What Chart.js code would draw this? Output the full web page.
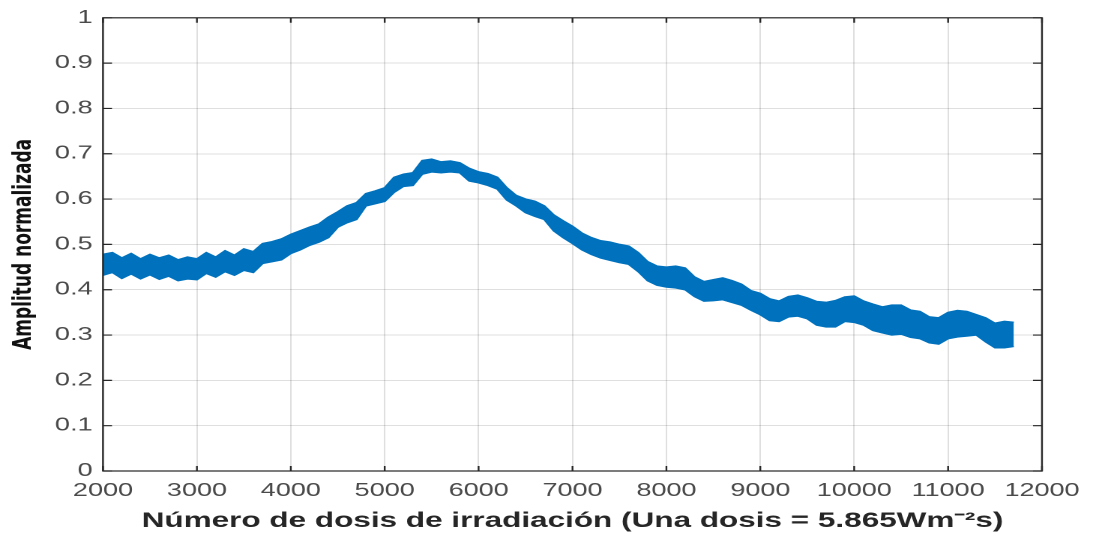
<!DOCTYPE html>
<html><head><meta charset="utf-8">
<script src="https://cdn.jsdelivr.net/npm/chart.js@4"></script>
<style>html,body{margin:0;padding:0;background:#fff;overflow:hidden}</style>
</head><body>
<canvas id="c" width="729" height="540" style="display:block;width:1093px;height:540px"></canvas>
<script>
// ---- data ----
const doses = [2000,2100,2200,2300,2400,2500,2600,2700,2800,2900,
  3000,3100,3200,3300,3400,3500,3600,3700,3800,3900,
  4000,4100,4200,4300,4400,4500,4600,4700,4800,4900,
  5000,5100,5200,5300,5400,5500,5600,5700,5800,5900,
  6000,6100,6200,6300,6400,6500,6600,6700,6800,6900,
  7000,7100,7200,7300,7400,7500,7600,7700,7800,7900,
  8000,8100,8200,8300,8400,8500,8600,8700,8800,8900,
  9000,9100,9200,9300,9400,9500,9600,9700,9800,9900,
  10000,10100,10200,10300,10400,10500,10600,10700,10800,10900,
  11000,11100,11200,11300,11400,11500,11600,11700];
const upperEnvelope = [0.478,0.482,0.470,0.480,0.468,0.478,0.470,0.476,0.466,0.472,
  0.468,0.482,0.472,0.486,0.476,0.490,0.484,0.502,0.506,0.512,
  0.522,0.530,0.538,0.545,0.560,0.572,0.585,0.592,0.612,0.618,
  0.625,0.648,0.655,0.658,0.685,0.688,0.682,0.684,0.680,0.668,
  0.660,0.656,0.648,0.625,0.608,0.600,0.595,0.585,0.565,0.552,
  0.540,0.525,0.515,0.508,0.505,0.500,0.496,0.482,0.462,0.452,
  0.450,0.452,0.448,0.428,0.418,0.422,0.426,0.420,0.412,0.398,
  0.392,0.380,0.375,0.385,0.388,0.382,0.374,0.372,0.376,0.384,
  0.386,0.375,0.368,0.362,0.366,0.366,0.355,0.352,0.340,0.338,
  0.350,0.354,0.352,0.345,0.338,0.326,0.330,0.328];
const lowerEnvelope = [0.432,0.438,0.425,0.435,0.424,0.433,0.423,0.430,0.420,0.424,
  0.422,0.436,0.428,0.440,0.432,0.443,0.438,0.458,0.462,0.466,
  0.480,0.488,0.498,0.505,0.515,0.538,0.548,0.555,0.585,0.590,
  0.595,0.615,0.628,0.630,0.655,0.660,0.658,0.660,0.658,0.640,
  0.636,0.630,0.622,0.598,0.585,0.570,0.562,0.555,0.530,0.515,
  0.502,0.488,0.478,0.470,0.465,0.460,0.456,0.440,0.420,0.410,
  0.406,0.404,0.400,0.385,0.375,0.376,0.378,0.372,0.366,0.355,
  0.345,0.332,0.330,0.340,0.342,0.336,0.322,0.318,0.318,0.330,
  0.328,0.322,0.310,0.305,0.300,0.302,0.295,0.292,0.283,0.280,
  0.292,0.296,0.298,0.300,0.285,0.272,0.272,0.275];
const xTickValues = [2000,3000,4000,5000,6000,7000,8000,9000,10000,11000,12000];
const yTickValues = [0,0.1,0.2,0.3,0.4,0.5,0.6,0.7,0.8,0.9,1];
const xTitle = 'Número de dosis de irradiación (Una dosis = 5.865Wm⁻²s)';
const yTitle = 'Amplitud normalizada';

const lineBlue = '#0072BD';
const axisColor = '#262626';

const boxPlugin = {
  id: 'matlabBox',
  afterDatasetsDraw(chart) {
    const {ctx, chartArea: a, scales: {x, y}} = chart;
    ctx.save();
    ctx.strokeStyle = axisColor;
    ctx.lineWidth = 1.2;
    ctx.beginPath();
    x.ticks.forEach(t => {
      const px = x.getPixelForValue(t.value);
      ctx.moveTo(px, a.bottom); ctx.lineTo(px, a.bottom - 5);
      ctx.moveTo(px, a.top); ctx.lineTo(px, a.top + 5);
    });
    y.ticks.forEach(t => {
      const py = y.getPixelForValue(t.value);
      ctx.moveTo(a.left, py); ctx.lineTo(a.left + 6, py);
      ctx.moveTo(a.right, py); ctx.lineTo(a.right - 6, py);
    });
    ctx.stroke();
    ctx.strokeRect(a.left, a.top, a.right - a.left, a.bottom - a.top);
    ctx.restore();
  }
};

const tickFont = {family: '"Liberation Sans", Arial, sans-serif', size: 18};

new Chart(document.getElementById('c'), {
  type: 'line',
  data: {
    labels: doses,
    datasets: [
      {label: 'upper', data: doses.map((d, i) => ({x: d, y: upperEnvelope[i]})),
       borderColor: lineBlue, backgroundColor: lineBlue, borderWidth: 1.5,
       pointRadius: 0, fill: '+1', tension: 0},
      {label: 'lower', data: doses.map((d, i) => ({x: d, y: lowerEnvelope[i]})),
       borderColor: lineBlue, backgroundColor: lineBlue, borderWidth: 1.5,
       pointRadius: 0, fill: false, tension: 0}
    ]
  },
  options: {
    responsive: false,
    devicePixelRatio: 2,
    animation: false,
    layout: {padding: {left: 0, right: 34, top: 11, bottom: 0}},
    plugins: {legend: {display: false}, tooltip: {enabled: false}},
    scales: {
      x: {
        type: 'linear', min: 2000, max: 12000,
        afterBuildTicks: s => { s.ticks = xTickValues.map(v => ({value: v})); },
        afterFit: s => { s.height = 69; },
        grid: {color: 'rgba(38,38,38,0.15)', lineWidth: 1, drawTicks: false},
        border: {display: false},
        ticks: {font: tickFont, color: '#4a4a4a', padding: 9, maxRotation: 0,
                autoSkip: false, callback: v => String(v)},
        title: {display: true, text: xTitle, color: axisColor,
                font: {family: '"Liberation Sans", Arial, sans-serif', size: 21, weight: 'bold'},
                padding: {top: 0, bottom: 6}}
      },
      y: {
        type: 'linear', min: 0, max: 1,
        afterBuildTicks: s => { s.ticks = yTickValues.map(v => ({value: v})); },
        afterFit: s => { s.width = 68.7; },
        grid: {color: 'rgba(38,38,38,0.15)', lineWidth: 1, drawTicks: false},
        border: {display: false},
        ticks: {font: tickFont, color: '#4a4a4a', padding: 7, callback: v => String(v)},
        title: {display: true, text: yTitle, color: '#111',
                font: {family: '"DejaVu Sans", sans-serif', size: 17, weight: 'bold'},
                padding: {top: 6, bottom: 0}}
      }
    }
  },
  plugins: [boxPlugin]
});
</script>
</body></html>
